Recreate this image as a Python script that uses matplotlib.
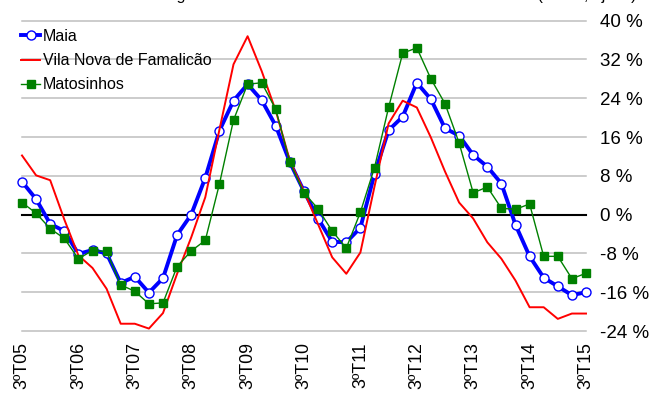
import matplotlib
matplotlib.use("Agg")
import matplotlib.pyplot as plt

plt.rcParams['font.family'] = ['Liberation Sans', 'DejaVu Sans']

# quarters 3ºT05 .. 3ºT15
quarters = []
for yr in range(5, 16):
    for q in range(1, 5):
        if (yr == 5 and q < 3) or (yr == 15 and q > 3):
            continue
        quarters.append(f"{q}ºT{yr:02d}")

maia = [6.8, 3.2, -1.9, -3.4, -8.1, -7.3, -8.0, -14.1, -12.8, -16.1, -13.1,
        -4.2, 0.0, 7.6, 17.3, 23.5, 26.9, 23.6, 18.3, 10.8, 4.8, -0.8, -5.6,
        -5.7, -2.7, 8.4, 17.4, 20.2, 27.2, 23.8, 17.8, 16.3, 12.3, 9.9, 6.4,
        -2.1, -8.6, -13.0, -14.8, -16.6, -16.0]
famalicao = [12.2, 8.1, 7.1, -1.0, -8.4, -11.0, -15.3, -22.5, -22.5, -23.5,
             -20.3, -12.2, -4.7, 3.6, 17.5, 31.0, 36.8, 29.6, 21.4, 11.1, 4.8,
             -2.0, -8.8, -12.2, -7.8, 5.8, 18.8, 23.5, 22.1, 15.9, 8.9, 2.5,
             -0.8, -5.7, -9.1, -13.6, -19.1, -19.1, -21.5, -20.4, -20.4]
matosinhos = [2.5, 0.3, -2.9, -4.9, -9.1, -7.4, -7.6, -14.5, -15.8, -18.4,
              -18.2, -10.7, -7.5, -5.3, 6.3, 19.5, 26.9, 27.2, 21.7, 10.8, 4.5,
              1.2, -3.4, -6.9, 0.5, 9.7, 22.1, 33.3, 34.4, 28.0, 22.9, 14.8,
              4.5, 5.7, 1.3, 1.1, 2.2, -8.6, -8.6, -13.2, -12.1]
series_names = ["Maia", "Vila Nova de Famalicão", "Matosinhos"]
yticks = list(range(-24, 41, 8))
title = "Taxa homóloga média móvel dos últimos 4 trimestres do índice (em %, ajust.)"

W, H = 670, 394
fig = plt.figure(figsize=(W / 100, H / 100), dpi=100)
ax = fig.add_axes([22 / W, 1 - 331 / H, 564 / W, (331 - 20.7) / H])

x = list(range(len(quarters)))

for v in yticks:
    if v == 0:
        continue
    ax.axhline(v, color='#BFBFBF', lw=1.1, zorder=1, clip_on=False)
ax.axhline(0, color='black', lw=1.5, zorder=2, clip_on=False)

ax.plot(x, maia, color='#0000FF', lw=2.8, marker='o', ms=6.5,
        mfc='white', mec='#0000FF', mew=1.0, label=series_names[0], zorder=3,
        clip_on=False)
ax.plot(x, famalicao, color='#FF0000', lw=1.4, label=series_names[1], zorder=4,
        clip_on=False)
ax.plot(x, matosinhos, color='#008000', lw=1.0, marker='s', ms=5.2,
        label=series_names[2], zorder=5, clip_on=False)

ax.set_xlim(0, len(quarters) - 1)
ax.set_ylim(-24, 40)
for s in ax.spines.values():
    s.set_visible(False)

ax.yaxis.tick_right()
ax.set_yticks(yticks)
ax.set_yticklabels([f"{v} %" for v in yticks])
ax.tick_params(axis='y', length=0, pad=10, labelsize=13.5)

ax.set_xticks(x[::4])
ax.set_xticklabels(quarters[::4], rotation=90)
ax.tick_params(axis='x', length=0, pad=8, labelsize=12.8)

ax.legend(loc='upper left', bbox_to_anchor=(21 / W, 1 - 29 / H),
          bbox_transform=fig.transFigure, frameon=False, borderpad=0,
          borderaxespad=0, handlelength=1.2, handletextpad=0.15,
          labelspacing=0.57, fontsize=11.5)

fig.text(636 / W, 1.0, title, ha='right', va='baseline', fontsize=11.5)

fig.savefig("out.png", dpi=100)
